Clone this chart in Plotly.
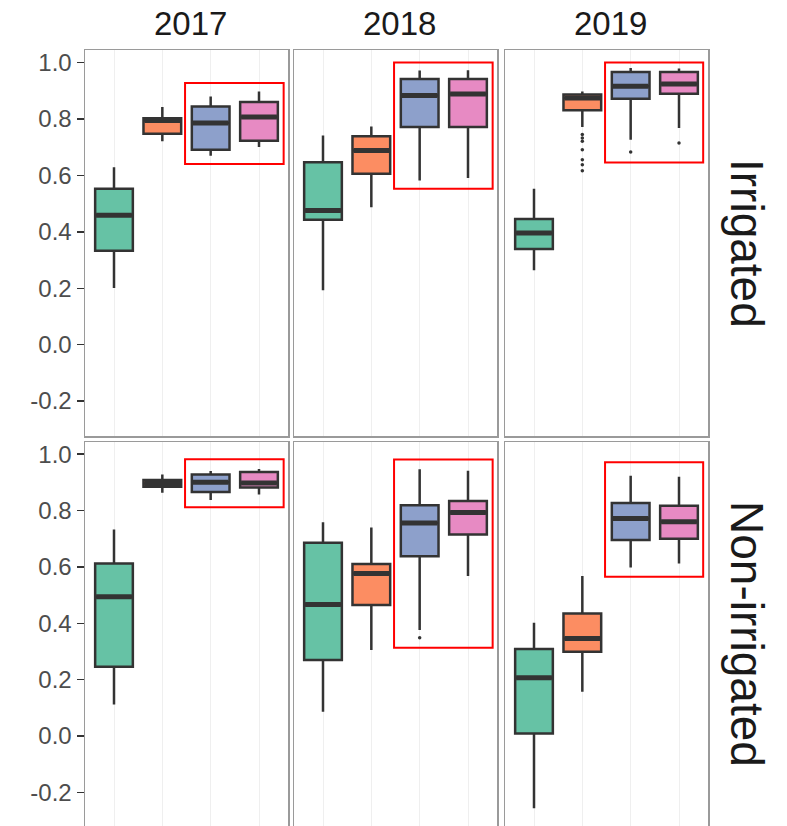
import plotly.graph_objects as go

# ---------------- data ----------------
YEARS = ["2017", "2018", "2019"]
TREATMENTS = ["Irrigated", "Non-irrigated"]
GROUP_POS = [1, 2, 3, 4]
GROUP_COLORS = ["#66C2A5", "#FC8D62", "#8DA0CB", "#E78AC3"]

# panel order: Irrigated 2017, 2018, 2019, Non-irrigated 2017, 2018, 2019
LOWER = [
    [0.201, 0.721, 0.670, 0.701],
    [0.193, 0.487, 0.582, 0.591],
    [0.264, 0.772, 0.727, 0.768],
    [0.112, 0.863, 0.837, 0.857],
    [0.086, 0.305, 0.376, 0.568],
    [-0.256, 0.157, 0.598, 0.612],
]
Q1 = [
    [0.333, 0.748, 0.691, 0.723],
    [0.443, 0.606, 0.772, 0.772],
    [0.339, 0.831, 0.872, 0.890],
    [0.246, 0.884, 0.866, 0.882],
    [0.270, 0.465, 0.638, 0.715],
    [0.009, 0.299, 0.695, 0.700],
]
MEDIAN = [
    [0.459, 0.795, 0.786, 0.807],
    [0.476, 0.689, 0.884, 0.889],
    [0.396, 0.875, 0.916, 0.924],
    [0.494, 0.896, 0.900, 0.898],
    [0.467, 0.577, 0.756, 0.793],
    [0.207, 0.346, 0.772, 0.760],
]
Q3 = [
    [0.553, 0.803, 0.845, 0.861],
    [0.647, 0.739, 0.942, 0.942],
    [0.446, 0.887, 0.967, 0.967],
    [0.612, 0.908, 0.928, 0.937],
    [0.686, 0.610, 0.819, 0.834],
    [0.309, 0.435, 0.827, 0.817],
]
UPPER = [
    [0.629, 0.843, 0.880, 0.898],
    [0.742, 0.774, 0.972, 0.973],
    [0.553, 0.898, 0.981, 0.979],
    [0.733, 0.928, 0.940, 0.947],
    [0.758, 0.740, 0.946, 0.941],
    [0.402, 0.568, 0.923, 0.920],
]
# outliers: (panel index, group index, values)
OUTLIERS = [
    (2, 1, [0.745, 0.733, 0.721, 0.691, 0.656, 0.638, 0.617]),
    (2, 2, [0.683]),
    (2, 3, [0.715]),
    (4, 2, [0.349]),
]
# red highlight rectangles (annotation, per panel): x0, x1, y0, y1
HIGHLIGHTS = [
    (2.47, 4.51, 0.641, 0.928),
    (2.47, 4.51, 0.553, 1.001),
    (2.47, 4.50, 0.646, 1.001),
    (2.47, 4.51, 0.812, 0.982),
    (2.47, 4.51, 0.313, 0.981),
    (2.47, 4.50, 0.565, 0.971),
]
Y_TICKS = [-0.2, 0.0, 0.2, 0.4, 0.6, 0.8, 1.0]
Y_TICK_TEXT = ["-0.2", "0.0", "0.2", "0.4", "0.6", "0.8", "1.0"]

# ---------------- styling ----------------
BOX_W = 0.78
LINE_C = "#333333"
FONT = "Liberation Sans, Arial, sans-serif"

W, H = 787, 826
ML, MR, MT, MB = 85, 79, 50, 0
PW, PH = W - ML - MR, H - MT - MB

col_px = [(85, 288), (294, 497), (505, 708)]
row_px = [(50, 436), (442, 826)]
x_dom = [[(a - ML) / PW, (b - ML) / PW] for a, b in col_px]
y_dom = [[(H - b) / PH, (H - a) / PH] for a, b in row_px]
y_rng = [[-0.324, 1.045], [-0.319, 1.043]]

fig = go.Figure()
layout = dict(
    width=W, height=H,
    margin=dict(l=ML, r=MR, t=MT, b=MB, pad=0, autoexpand=False),
    paper_bgcolor="white", plot_bgcolor="white",
    showlegend=False,
    font=dict(family=FONT),
)

shapes = []
annotations = []
for r in range(2):
    for c in range(3):
        p = r * 3 + c
        k = p + 1
        xa = "x" if k == 1 else f"x{k}"
        ya = "y" if k == 1 else f"y{k}"
        for g in range(4):
            fig.add_trace(go.Box(
                x=[GROUP_POS[g]], q1=[Q1[p][g]], median=[MEDIAN[p][g]],
                q3=[Q3[p][g]], lowerfence=[LOWER[p][g]], upperfence=[UPPER[p][g]],
                width=BOX_W, fillcolor=GROUP_COLORS[g],
                line=dict(color=LINE_C, width=2.5), whiskerwidth=0,
                boxpoints=False, orientation="v", hoverinfo="skip",
                xaxis=xa, yaxis=ya,
            ))
            # thick median (ggplot style)
            fig.add_trace(go.Scatter(
                x=[GROUP_POS[g] - BOX_W / 2 + 0.02, GROUP_POS[g] + BOX_W / 2 - 0.02],
                y=[MEDIAN[p][g], MEDIAN[p][g]],
                mode="lines", line=dict(color=LINE_C, width=5),
                hoverinfo="skip", xaxis=xa, yaxis=ya,
            ))
        for (pp, g, vals) in OUTLIERS:
            if pp == p:
                fig.add_trace(go.Scatter(
                    x=[GROUP_POS[g]] * len(vals), y=vals, mode="markers",
                    marker=dict(color=LINE_C, size=3.5),
                    hoverinfo="skip", xaxis=xa, yaxis=ya,
                ))
        x0, x1, y0, y1 = HIGHLIGHTS[p]
        shapes.append(dict(type="rect", xref=xa, yref=ya, x0=x0, x1=x1, y0=y0, y1=y1,
                           line=dict(color="#FF0000", width=2), fillcolor="rgba(0,0,0,0)",
                           layer="above"))

        layout["xaxis" if k == 1 else f"xaxis{k}"] = dict(
            domain=x_dom[c], anchor=ya, range=[0.4, 4.6],
            tickvals=GROUP_POS, showticklabels=False, ticks="",
            showgrid=True, gridcolor="#EFEFEF", gridwidth=1, zeroline=False,
            showline=True, mirror=True, linecolor="#9A9A9A", linewidth=1.5,
            automargin=False, fixedrange=True,
        )
        layout["yaxis" if k == 1 else f"yaxis{k}"] = dict(
            domain=y_dom[r], anchor=xa, range=y_rng[r],
            tickvals=Y_TICKS, ticktext=Y_TICK_TEXT,
            showticklabels=(c == 0), ticks="outside" if c == 0 else "",
            ticklen=7, tickwidth=1.5, tickcolor=LINE_C,
            tickfont=dict(family=FONT, size=24, color="#4D4D4D"),
            showgrid=False, zeroline=False,
            showline=True, mirror=True, linecolor="#9A9A9A", linewidth=1.5,
            automargin=False, fixedrange=True,
        )

for c, yr in enumerate(YEARS):
    annotations.append(dict(
        text=yr, xref="paper", yref="paper",
        x=(x_dom[c][0] + x_dom[c][1]) / 2 + 0.006, y=1 + (MT - 24) / PH,
        xanchor="center", yanchor="middle", showarrow=False,
        font=dict(family=FONT, size=33, color="#1A1A1A"),
    ))
for r, tr in enumerate(TREATMENTS):
    annotations.append(dict(
        text=tr, xref="paper", yref="paper",
        x=(747 - ML) / PW, y=(y_dom[r][0] + y_dom[r][1]) / 2,
        xanchor="center", yanchor="middle", textangle=90, showarrow=False,
        font=dict(family=FONT, size=46, color="#1A1A1A"),
    ))

layout["shapes"] = shapes
layout["annotations"] = annotations
fig.update_layout(**layout)
fig.write_html(
    "out.html",
    config={"displayModeBar": False, "staticPlot": True},
    post_script="document.body.style.margin='0';document.body.style.overflow='hidden';",
)
